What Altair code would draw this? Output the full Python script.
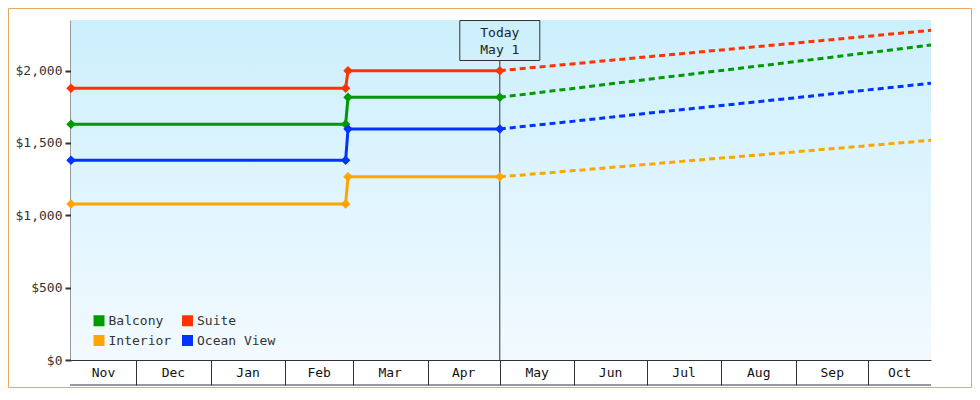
import altair as alt
import pandas as pd

# ---------------- data ----------------
series_names = ["Balcony", "Suite", "Interior", "Ocean View"]
series_colors = ["#009900", "#ff3300", "#ffa500", "#0033ff"]

hist_dates = ["2022-11-04", "2023-02-26", "2023-02-27", "2023-05-01"]
hist_balcony = [1630, 1630, 1816, 1816]
hist_suite = [1879, 1879, 2000, 2000]
hist_interior = [1079, 1079, 1266, 1266]
hist_ocean = [1381, 1381, 1597, 1597]

proj_dates = ["2023-05-01", "2023-06-01", "2023-07-01", "2023-08-01",
              "2023-09-01", "2023-10-01", "2023-10-27"]
proj_balcony = [1816, 1878, 1939, 2001, 2063, 2124, 2177]
proj_suite = [2000, 2048, 2095, 2143, 2191, 2238, 2279]
proj_interior = [1266, 1309, 1352, 1396, 1439, 1482, 1519]
proj_ocean = [1597, 1651, 1705, 1759, 1813, 1867, 1913]

month_labels = ["Nov", "Dec", "Jan", "Feb", "Mar", "Apr",
                "May", "Jun", "Jul", "Aug", "Sep", "Oct"]
month_starts = ["2022-11-01", "2022-12-01", "2023-01-01", "2023-02-01",
                "2023-03-01", "2023-04-01", "2023-05-01", "2023-06-01",
                "2023-07-01", "2023-08-01", "2023-09-01", "2023-10-01"]
domain_start = "2022-11-04"
domain_end = "2023-10-27"
today_date = "2023-05-01"
today_text = ["Today", "May 1"]
y_ticks = [0, 500, 1000, 1500, 2000]
y_max = 2350

# ---------------- tables ----------------
def ms(s):
    return int(pd.Timestamp(s, tz="UTC").value // 10**6)

hist_vals = {"Balcony": hist_balcony, "Suite": hist_suite,
             "Interior": hist_interior, "Ocean View": hist_ocean}
proj_vals = {"Balcony": proj_balcony, "Suite": proj_suite,
             "Interior": proj_interior, "Ocean View": proj_ocean}

hist_df = pd.DataFrame([
    {"series": s, "date": d, "price": v}
    for s in series_names for d, v in zip(hist_dates, hist_vals[s])
])
proj_df = pd.DataFrame([
    {"series": s, "date": d, "price": v}
    for s in series_names for d, v in zip(proj_dates, proj_vals[s])
])

d0 = pd.Timestamp(domain_start)
d1 = pd.Timestamp(domain_end)
starts = [pd.Timestamp(s) for s in month_starts]
ends = starts[1:] + [d1]
mids = []
for a, b in zip(starts, ends):
    a = max(a, d0)
    b = min(b, d1)
    mids.append((a + (b - a) / 2).strftime("%Y-%m-%dT%H:%M:%SZ"))
month_df = pd.DataFrame({"label": month_labels, "mid": mids})
boundary_ms = [ms(s) for s in month_starts if d0 < pd.Timestamp(s) < d1]

today_df = pd.DataFrame({"date": [today_date], "text": ["\n".join(today_text)]})
one = pd.DataFrame({"k": [0]})

FONT = "DejaVu Sans Mono"
W, H = 860, 340

x_scale = alt.Scale(type="utc", domain=[ms(domain_start), ms(domain_end)], nice=False)
y_scale = alt.Scale(domain=[0, y_max], nice=False, zero=True)
color_scale = alt.Scale(domain=series_names, range=series_colors)

x_axis = alt.Axis(values=boundary_ms, labels=False, tickSize=25, tickColor="#333333",
                  tickWidth=1, domainColor="#333333", domainWidth=1, grid=False, title=None)
y_axis = alt.Axis(values=y_ticks, format="$,.0f", tickSize=6, tickWidth=2,
                  tickColor="#333333", domainColor="#333333", domainWidth=2,
                  labelFont=FONT, labelFontSize=13, labelColor="#333333",
                  labelPadding=3, grid=False, title=None)

legend = alt.Legend(
    orient="none", legendX=21.5, legendY=294, columns=2, direction="horizontal",
    symbolType="square", symbolSize=121, symbolStrokeWidth=0, symbolOpacity=1,
    labelFont=FONT, labelFontSize=13, labelColor="#333333", labelOffset=3,
    columnPadding=9.5, rowPadding=6, padding=0, title=None)

X = alt.X("date:T", scale=x_scale, axis=x_axis)
Y = alt.Y("price:Q", scale=y_scale, axis=y_axis)
C = alt.Color("series:N", scale=color_scale, legend=legend)

# background gradient
bg = alt.Chart(one).mark_rect(
    color=alt.LinearGradient(
        gradient="linear", x1=0, x2=0, y1=0, y2=1,
        stops=[alt.GradientStop(color="#cceffc", offset=0),
               alt.GradientStop(color="#f2faff", offset=1)])
).encode(x=alt.value(0), x2=alt.value(W), y=alt.value(0), y2=alt.value(H))

border = alt.Chart(one).mark_rect(fillOpacity=0, stroke="#e8a860", strokeWidth=1).encode(
    x=alt.value(-62.5), x2=alt.value(900.5), y=alt.value(-11.5), y2=alt.value(367.5))

band_rule = alt.Chart(one).mark_rule(color="#333333", strokeWidth=1).encode(
    x=alt.value(-1), x2=alt.value(W), y=alt.value(365))

month_text = alt.Chart(month_df).mark_text(
    font=FONT, fontSize=13, color="#111111", baseline="middle", align="center"
).encode(x=alt.X("mid:T", scale=x_scale, axis=x_axis), y=alt.value(352.5), text="label:N")

today_rule = alt.Chart(today_df).mark_rule(color="#333333", strokeWidth=1).encode(
    x=X, y=alt.value(40.5), y2=alt.value(H))

today_box = alt.Chart(today_df).mark_rect(
    xOffset=-40, x2Offset=40, fillOpacity=0, stroke="#333333", strokeWidth=1
).encode(x=X, x2=alt.X2("date:T"), y=alt.value(0.5), y2=alt.value(40.5))

today_label = alt.Chart(today_df).mark_text(
    font=FONT, fontSize=13, color="#222222", lineBreak="\n", lineHeight=17,
    baseline="middle", align="center"
).encode(x=X, y=alt.value(12.5), text="text:N")

points = alt.Chart(hist_df).mark_point(shape="diamond", filled=True, size=90, opacity=1).encode(
    x=X, y=Y, color=C)

solid = alt.Chart(hist_df).mark_line(strokeWidth=3).encode(
    x=X, y=Y, color=C, detail="series:N")

dashed = alt.Chart(proj_df).mark_line(strokeWidth=3, strokeDash=[6, 4]).encode(
    x=X, y=Y, color=C, detail="series:N")

chart = alt.layer(
    bg, border, band_rule, month_text, today_rule, today_box, today_label,
    points, solid, dashed
).properties(
    width=W, height=H,
    padding={"left": 63, "top": 12, "right": 41, "bottom": 28},
    autosize=alt.AutoSizeParams(type="none"),
    background="white"
).configure_view(stroke=None)

chart.save("out.html", embed_options={"renderer": "svg", "actions": False})
